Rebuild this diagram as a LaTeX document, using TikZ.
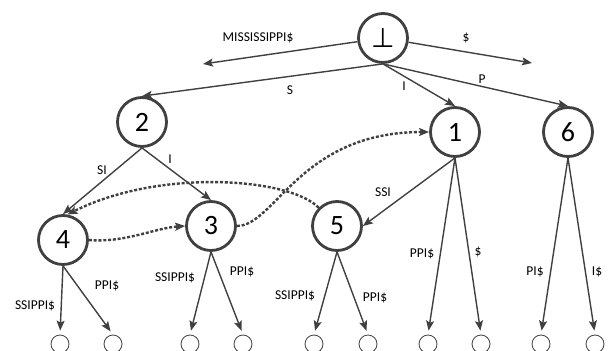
\documentclass[tikz,border=0pt]{standalone}
\usepackage{fontspec}
\setmainfont{Carlito}
\newfontfamily\symfont{DejaVu Sans}
\usetikzlibrary{arrows.meta}
\definecolor{ln}{HTML}{404040}
\begin{document}
\begin{tikzpicture}[x=1pt,y=-1pt,
  state/.style={circle,draw=ln,line width=2.8pt,minimum size=49pt,inner sep=0pt,font=\fontsize{28}{28}\selectfont},
  leaf/.style={circle,draw=ln,line width=0.8pt,minimum size=18pt,inner sep=0pt},
  edge/.style={draw=ln,line width=1.4pt,-{Stealth[length=10pt,width=8pt,inset=2pt]}},
  link/.style={draw=ln,line width=2.4pt,dash pattern=on 3pt off 1.8pt,-{Stealth[length=10pt,width=8pt,inset=2pt]}},
  lab/.style={font=\fontsize{13.5}{13.5}\selectfont,inner sep=0pt}]
\useasboundingbox (0,0) rectangle (611,351);
% states
\node[state,font=\symfont\fontsize{27}{27}\selectfont] (r) at (383,38) {⊥};
\node[state] (n2) at (142,122) {2};
\node[state] (n1) at (455,132) {1};
\node[state] (n6) at (568,132) {6};
\node[state] (n4) at (63,240) {4};
\node[state] (n3) at (211,226) {3};
\node[state] (n5) at (337,226) {5};
% leaves
\node[leaf] (l1) at (60,344) {};
\node[leaf] (l2) at (113,344) {};
\node[leaf] (l3) at (190,344) {};
\node[leaf] (l4) at (243,344) {};
\node[leaf] (l5) at (314,344) {};
\node[leaf] (l6) at (368,344) {};
\node[leaf] (l7) at (428,344) {};
\node[leaf] (l8) at (481,344) {};
\node[leaf] (l9) at (541,344) {};
\node[leaf] (l10) at (595,344) {};
% free ends
\coordinate (mEnd) at (203,64);
\coordinate (dEnd) at (532,63);
% root edges
\draw[edge] (r) -- (mEnd);
\draw[edge] (r) -- (dEnd);
\draw[edge] (r.south) -- (n2.north);
\draw[edge] (r.south) -- (n1.north);
\draw[edge] (r.south) -- (n6.north);
\draw[edge] (n2.south) -- (n4.north);
\draw[edge] (n2.south) -- (n3.north);
\draw[edge] (n1.south) -- (n5.east);
% leaf edges
\foreach \p/\a/\b in {n4/l1/l2, n3/l3/l4, n5/l5/l6, n1/l7/l8, n6/l9/l10}{
  \draw[edge,shorten >=4pt] (\p.south) -- (\a.north);
  \draw[edge,shorten >=4pt] (\p.south) -- (\b.north);
}
% suffix links
\draw[link] (n5.135) .. controls (290,178) and (160,168) .. (n4.80);
\draw[link] (n4.east) .. controls (125,243) and (155,228) .. (n3.west);
\draw[link] (n3.east) .. controls (275,226) and (300,132) .. (n1.west);
% labels
\node[lab] (t1) at (258,38) {MISSISSIPPI\$};
\node[lab] (t2) at (466,38) {\$};
\node[lab] (t3) at (290,90) {S};
\node[lab] (t4) at (404,86) {I};
\node[lab] (t5) at (482,79) {P};
\node[lab] (t6) at (102,170) {SI};
\node[lab] (t7) at (170,159) {I};
\node[lab] (t8) at (383,192) {SSI};
\node[lab] (t9) at (35,306) {SSIPPI\$};
\node[lab] (t10) at (107,286) {PPI\$};
\node[lab] (t11) at (175,278) {SSIPPI\$};
\node[lab] (t12) at (242,272) {PPI\$};
\node[lab] (t13) at (295,296) {SSIPPI\$};
\node[lab] (t14) at (375,298) {PPI\$};
\node[lab] (t15) at (422,254) {PPI\$};
\node[lab] (t16) at (478,252) {\$};
\node[lab] (t17) at (535,272) {PI\$};
\node[lab] (t18) at (597,272) {I\$};
\end{tikzpicture}
\end{document}
